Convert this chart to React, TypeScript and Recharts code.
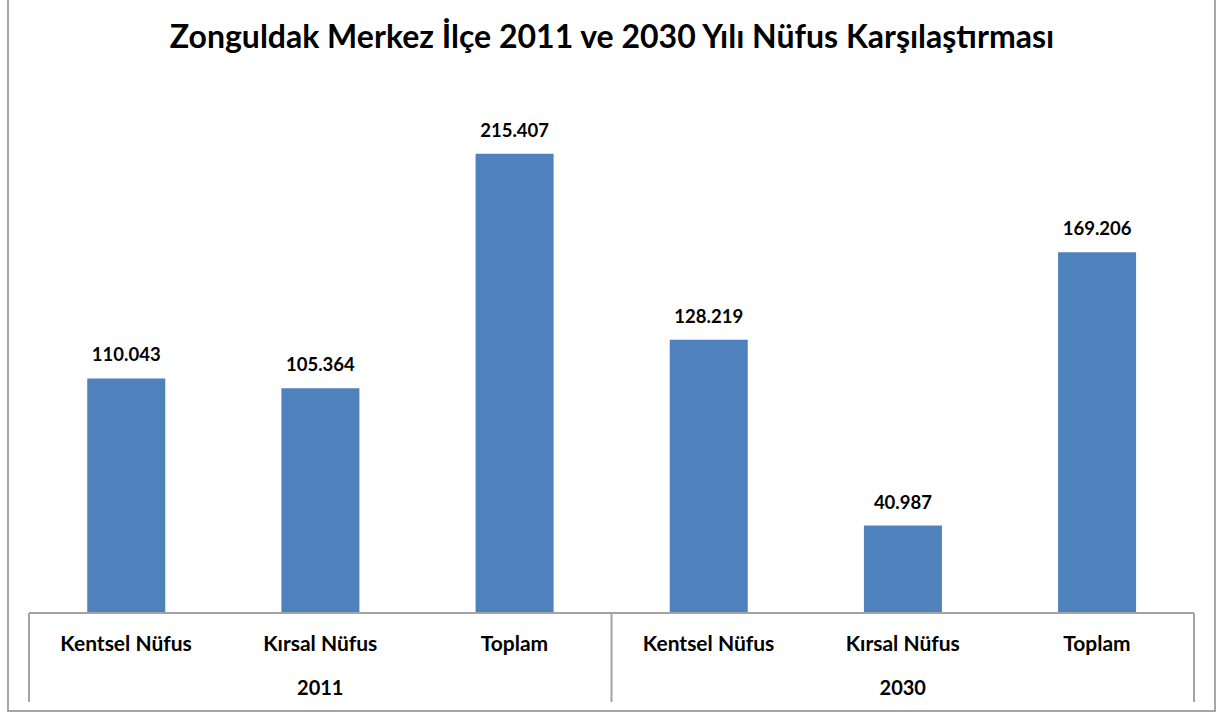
import { BarChart, Bar, XAxis, YAxis, LabelList } from "recharts";

const title = "Zonguldak Merkez İlçe 2011 ve 2030 Yılı Nüfus Karşılaştırması";
const categories = ["Kentsel Nüfus", "Kırsal Nüfus", "Toplam", "Kentsel Nüfus", "Kırsal Nüfus", "Toplam"];
const years = ["2011", "2011", "2011", "2030", "2030", "2030"];
const values = [110043, 105364, 215407, 128219, 40987, 169206];

const W = 1217;
const H = 713;
const M = { top: 80, right: 23, bottom: 0, left: 29 };
const AXIS_H = 100;
const FONT = "Lato, 'Open Sans', sans-serif";
const GRID = "#a3a3a3";

const data = categories.map((c, i) => ({ key: i, cat: c, year: years[i], value: values[i] }));

// 110043 -> "110.043"
const fmt = (v: number) => String(v).replace(/\B(?=(\d{3})+(?!\d))/g, ".");

const band = (W - M.left - M.right) / categories.length;

function Tick(props: any) {
  const { x, y, payload } = props;
  const i = payload.index;
  const first = i === 0 || years[i] !== years[i - 1];
  const last = i === categories.length - 1;
  const mid = i % 3 === 1;
  return (
    <g>
      <text x={x} y={y + 38} textAnchor="middle" fontFamily={FONT} fontWeight={700} fontSize={21} fill="#000">
        {categories[i]}
      </text>
      {mid && (
        <text x={x} y={y + 82} textAnchor="middle" fontFamily={FONT} fontWeight={700} fontSize={20} fill="#000">
          {years[i]}
        </text>
      )}
      {first && <line x1={x - band / 2} x2={x - band / 2} y1={y} y2={y + 89} stroke={GRID} strokeWidth={2} />}
      {last && <line x1={x + band / 2} x2={x + band / 2} y1={y} y2={y + 89} stroke={GRID} strokeWidth={2} />}
    </g>
  );
}

function ValueLabel(props: any) {
  const { x, y, width, value } = props;
  return (
    <text x={x + width / 2} y={y - 17} textAnchor="middle" fontFamily={FONT} fontWeight={700} fontSize={18.5} fill="#000">
      {fmt(value)}
    </text>
  );
}

export default function App() {
  return (
    <div style={{ position: "absolute", left: 0, top: 0, width: W, height: H, background: "#fff" }}>
      <div
        style={{
          position: "absolute",
          left: 7,
          top: -3,
          width: 1209,
          height: 715,
          border: "2px solid #a6a6a6",
          boxSizing: "border-box",
        }}
      />
      <div
        style={{
          position: "absolute",
          left: 0,
          top: 16,
          width: 1224,
          textAlign: "center",
          fontFamily: FONT,
          fontWeight: 700,
          fontSize: 32,
          color: "#000",
        }}
      >
        {title}
      </div>
      <div style={{ position: "absolute", left: 0, top: 0 }}>
        <BarChart width={W} height={H} data={data} margin={M} barCategoryGap="30%">
          <XAxis
            dataKey="key"
            height={AXIS_H}
            tick={<Tick />}
            tickLine={false}
            tickSize={0}
            tickMargin={0}
            interval={0}
            axisLine={{ stroke: GRID, strokeWidth: 2 }}
          />
          <YAxis hide domain={[0, 250000]} />
          <Bar dataKey="value" fill="#4F81BD" isAnimationActive={false}>
            <LabelList dataKey="value" content={<ValueLabel />} />
          </Bar>
        </BarChart>
      </div>
    </div>
  );
}
